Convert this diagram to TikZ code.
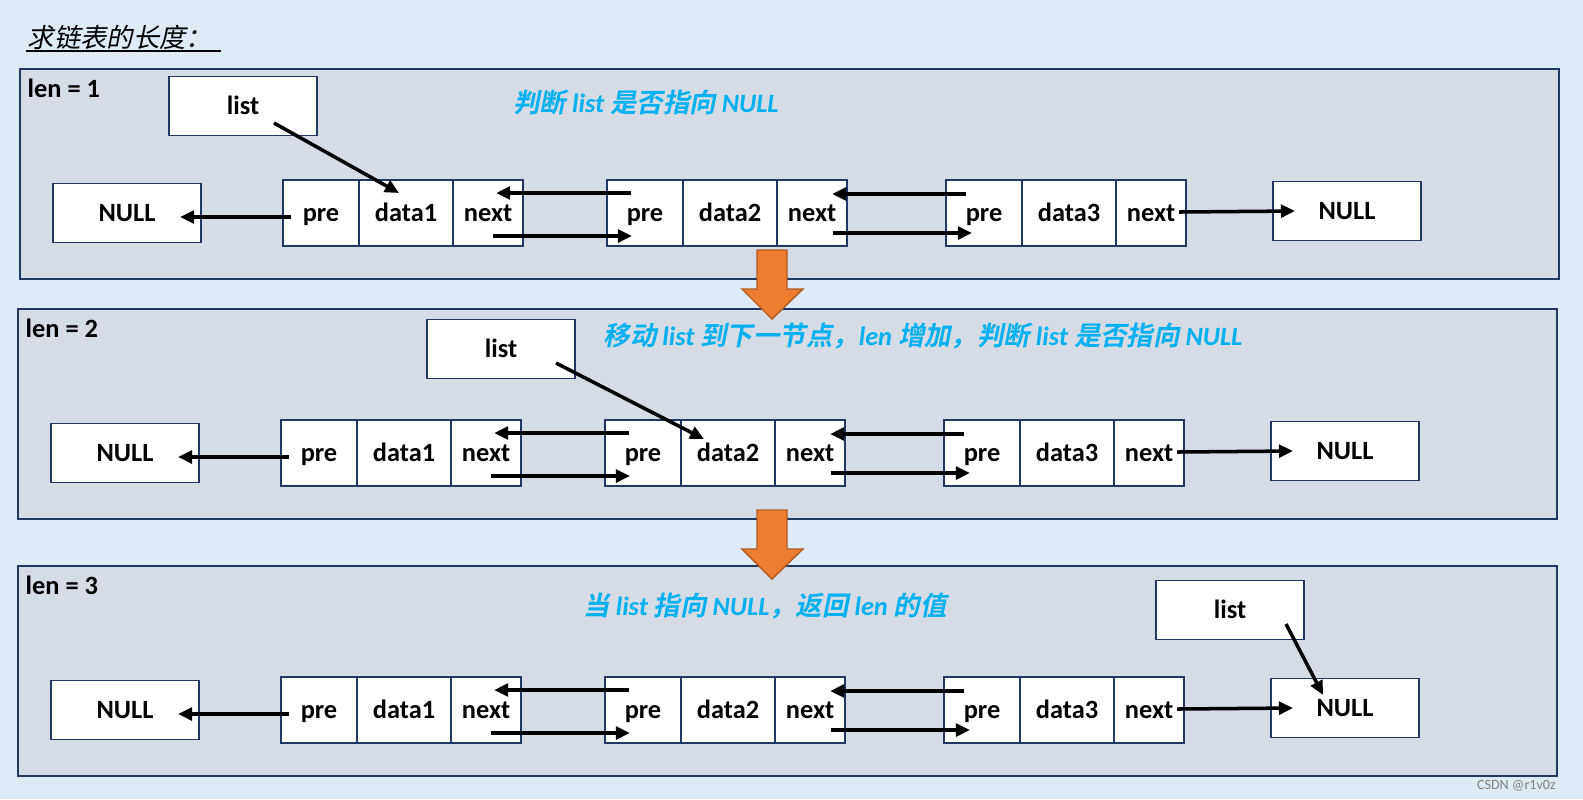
\documentclass[tikz,border=0pt]{standalone}
\usepackage{fontspec}
\setmainfont{Carlito}
\newfontfamily\cjk{Noto Sans CJK SC}[UprightFont=*, BoldFont=* Bold,
    ItalicFont=*, ItalicFeatures={FakeSlant=0.2},
    BoldItalicFont=* Bold, BoldItalicFeatures={FakeSlant=0.2}]
\usetikzlibrary{arrows.meta, positioning}
\definecolor{bgblue}{HTML}{DEEBF7}
\definecolor{panelgrey}{HTML}{D6DCE5}
\definecolor{edgeblue}{HTML}{1F3864}
\definecolor{hintcyan}{HTML}{00B0F0}
\definecolor{arrorange}{HTML}{ED7D31}
\definecolor{arrbrown}{HTML}{AE5A21}
\newcommand{\zh}[1]{{\cjk #1}}
\newcommand{\figfont}{\fontsize{7.5}{9}\selectfont}

\begin{document}
\begin{tikzpicture}[x=0.01cm, y=-0.01cm,
                cell/.style={draw=edgeblue, fill=white, minimum height=0.66cm, inner sep=0pt, outer sep=0pt,
                             text height=0.7em, text depth=0.2em, font=\figfont\bfseries},
                boxnode/.style={draw=edgeblue, fill=white, minimum width=1.48cm, minimum height=0.59cm,
                                text height=0.7em, text depth=0.2em, font=\figfont\bfseries},
                panel/.style={draw=edgeblue, fill=panelgrey, line width=0.5pt},
                ptr/.style={-{Triangle[length=4pt,width=3.6pt]}, line width=1pt},
                hint/.style={text=hintcyan, font=\figfont\bfseries\itshape},
                downarrow/.style={fill=arrorange, draw=arrbrown, line width=0.4pt}
]

    % Background and title
        \fill[bgblue] (0,0) rectangle (1583,799);
        \useasboundingbox (0,0) rectangle (1583,799);
        \node[anchor=west, inner sep=0pt, font=\figfont\itshape] (title) at (27,37) {\zh{求链表的长度：}};
        \draw[line width=0.6pt] ([shift={(-1,1)}]title.south west) -- ([shift={(8,1)}]title.south east);

    % The three steps, same list in each
    \foreach \p/\ox/\oy in {1/20/69, 2/18/309, 3/18/566} {
        \begin{scope}[shift={(\ox,\oy)}]
            \draw[panel] (0,0) rectangle (1539,210);
            \node[anchor=west, inner sep=0pt, font=\figfont\bfseries] (len\p) at (7,19) {len = \p};
            \node[boxnode] (nullL\p) at (107,144) {NULL};
            \node[boxnode] (nullR\p) at (1327,142) {NULL};
            \foreach \r/\x in {1/301, 2/625, 3/964} {
                \node[cell, minimum width=0.76cm] (pre\p-\r) at (\x,144) {pre};
                \node[cell, minimum width=0.94cm, right=0pt of pre\p-\r] (data\p-\r) {data\r};
                \node[cell, minimum width=0.70cm, right=0pt of data\p-\r] (next\p-\r) {next};
            }
            % pre / next pointers
            \draw[ptr] ([shift={(-30,4)}]pre\p-1.center) -- ([shift={(53,4)}]nullL\p.center);
            \draw[ptr] ([shift={(-14,-20)}]pre\p-2.center) -- ([shift={(8,-20)}]next\p-1.center);
            \draw[ptr] ([shift={(5,23)}]next\p-1.center) -- ([shift={(-13,23)}]pre\p-2.center);
            \draw[ptr] ([shift={(-18,-19)}]pre\p-3.center) -- ([shift={(20,-19)}]next\p-2.center);
            \draw[ptr] ([shift={(21,20)}]next\p-2.center) -- ([shift={(-12,20)}]pre\p-3.center);
            \draw[ptr] ([shift={(-7,-1)}]next\p-3.east) -- ([shift={(-52,0)}]nullR\p.center);
        \end{scope}
    }

    % list pointer in each step
        \node[boxnode] (list1) at (243,106) {list};
        \node[boxnode] (list2) at (501,349) {list};
        \node[boxnode] (list3) at (1230,610) {list};
        \draw[ptr] ([shift={(31,17)}]list1.center) -- ([shift={(-7,-20)}]data1-1.center);
        \draw[ptr] ([shift={(55,14)}]list2.center) -- ([shift={(-24,-14)}]data2-2.center);
        \draw[ptr] ([shift={(56,14)}]list3.center) -- ([shift={(-22,-13)}]nullR3.center);

    % Notes
        \node[hint] (hint1) at (646,102) {\zh{判断} list \zh{是否指向} NULL};
        \node[hint] (hint2) at (923,336) {\zh{移动} list \zh{到下一节点，}len \zh{增加，判断} list \zh{是否指向} NULL};
        \node[hint] (hint3) at (765,606) {\zh{当} list \zh{指向} NULL\zh{，返回} len \zh{的值}};

    % Orange arrows between steps
        \foreach \ay in {250,510}
            \draw[downarrow] (757,\ay) -- ++(30,0) -- ++(0,39) -- ++(16,0) -- ++(-31,30) -- ++(-30,-30) -- ++(15,0) -- cycle;

        \node[anchor=east, text=gray, font=\fontsize{4}{5}\selectfont] (mark) at (1568,786) {CSDN @r1v0z};
\end{tikzpicture}
\end{document}
